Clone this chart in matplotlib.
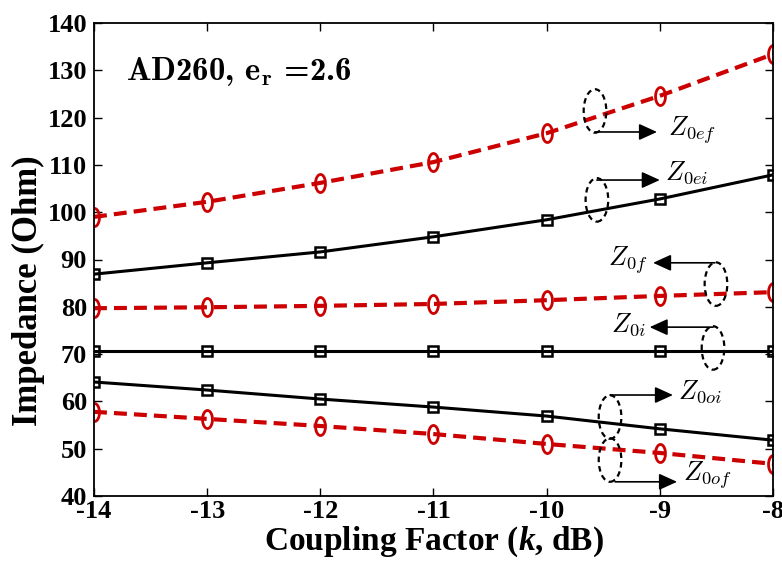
import matplotlib
matplotlib.use('Agg')
import matplotlib.pyplot as plt
from matplotlib.patches import Ellipse
from matplotlib.path import Path
from matplotlib.font_manager import FontProperties
import numpy as np
import os

plt.rcParams['font.family'] = 'Liberation Serif'
plt.rcParams['font.weight'] = 'bold'
plt.rcParams['axes.labelweight'] = 'bold'
plt.rcParams['axes.unicode_minus'] = False
plt.rcParams['mathtext.fontset'] = 'custom'
plt.rcParams['mathtext.rm'] = 'Liberation Serif:bold'
plt.rcParams['mathtext.it'] = 'Liberation Serif:italic:bold'
plt.rcParams['mathtext.bf'] = 'Liberation Serif:bold'

# coupling factor (dB)
k = [-14, -13, -12, -11, -10, -9, -8]

# impedances (Ohm)
z0ef = [99.0, 102.2, 106.2, 110.6, 116.7, 124.6, 133.4]
z0ei = [86.9, 89.3, 91.6, 94.8, 98.4, 102.8, 107.9]
z0f = [79.7, 79.9, 80.2, 80.6, 81.4, 82.3, 83.1]
z0i = [70.7, 70.7, 70.7, 70.7, 70.7, 70.7, 70.7]
z0oi = [64.1, 62.4, 60.5, 58.8, 56.9, 54.2, 51.8]
z0of = [57.8, 56.3, 54.8, 53.1, 51.0, 49.1, 46.8]

RED = '#cc0000'

# narrow upright ellipse used as the circle marker
t = np.linspace(0, 2 * np.pi, 40)
oval = Path(np.column_stack([0.55 * np.cos(t), np.sin(t)]))

fig = plt.figure(figsize=(7.82, 5.61), dpi=100)
ax = fig.add_axes([94 / 782, 1 - 496 / 561, 679 / 782, 473 / 561])

solid = dict(color='k', lw=2.2, marker='s', ms=7, mfc='none',
             mec='k', mew=1.8)
dashed = dict(color=RED, lw=3.0, ls=(0, (3.1, 1.7)), marker=oval, ms=13,
              mfc='none', mec=RED, mew=2.0)

ax.plot(k, z0ef, **dashed)
ax.plot(k, z0ei, **solid)
ax.plot(k, z0f, **dashed)
ax.plot(k, z0i, **solid)
ax.plot(k, z0oi, **solid)
ax.plot(k, z0of, **dashed)

ax.set_xlim(-14, -8)
ax.set_ylim(40, 140)
ax.set_xticks(k)
ax.set_yticks(range(40, 141, 10))
ax.tick_params(direction='in', top=True, right=True, length=6, width=1,
               labelsize=19, pad=3)
ax.tick_params(axis='y', pad=5)
for s in ax.spines.values():
    s.set_linewidth(1.3)

ax.set_xlabel(r'Coupling Factor ($k$, dB)', fontsize=24, labelpad=1)
ax.set_ylabel('Impedance (Ohm)', fontsize=25)
ax.yaxis.set_label_coords(-0.072, 0.435)

cmb = FontProperties(fname=os.path.join(matplotlib.get_data_path(),
                                        'fonts', 'ttf', 'cmb10.ttf'),
                     size=23.5)
ax.text(-13.72, 128.0, r'AD260, e$_\mathbf{r}$ =2.6', fontproperties=cmb,
        va='baseline', math_fontfamily='cm')

# annotations: (ellipse centre), arrow start, arrow end, label pos, ha
notes = [
    ((-9.573, 121.4), (-9.573, 116.96), (-9.025, 116.96), (-8.93, 117.4), 'left', r'$Z_{0ef}$'),
    ((-9.556, 102.6), (-9.556, 106.8), (-9.0, 106.8), (-8.95, 108.3), 'left', r'$Z_{0ei}$'),
    ((-8.504, 84.8), (-8.513, 89.3), (-9.06, 89.3), (-9.11, 89.9), 'right', r'$Z_{0f}$'),
    ((-8.53, 71.3), (-8.53, 75.7), (-9.09, 75.7), (-9.12, 76.2), 'right', r'$Z_{0i}$'),
    ((-9.44, 56.7), (-9.44, 61.35), (-8.884, 61.35), (-8.84, 62.0), 'left', r'$Z_{0oi}$'),
    ((-9.44, 47.6), (-9.396, 43.0), (-8.848, 43.0), (-8.795, 44.4), 'left', r'$Z_{0of}$'),
]
for cen, a0, a1, lp, ha, lab in notes:
    ax.add_patch(Ellipse(cen, 0.2, 9.2, fill=False, ec='k', lw=1.6,
                         ls=(0, (2.5, 1.8)), zorder=5))
    ax.annotate('', xy=a1, xytext=a0,
                arrowprops=dict(arrowstyle='-|>,head_length=0.55,head_width=0.25',
                                color='k', lw=1.2, mutation_scale=20,
                                shrinkA=0, shrinkB=0))
    ax.text(lp[0], lp[1], lab, fontsize=19, ha=ha, va='center',
            math_fontfamily='cm')

fig.savefig('out.png', dpi=100)
